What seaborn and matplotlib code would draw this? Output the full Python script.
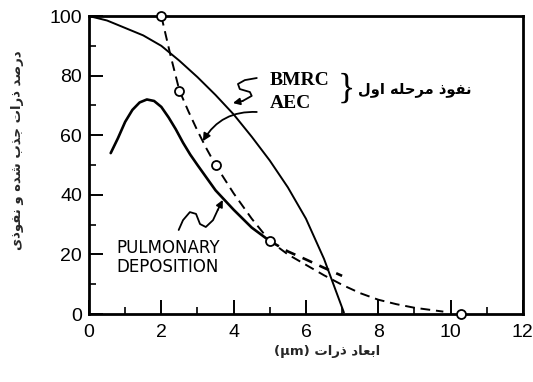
import matplotlib
matplotlib.use("Agg")
import matplotlib.pyplot as plt
import seaborn as sns

# ---------------- data ----------------
bmrc_x = [0, 0.5, 1, 1.5, 2, 2.5, 3, 3.5, 4, 4.5, 5, 5.5, 6, 6.5, 7.05]
bmrc_y = [100, 98.5, 96, 93.5, 90, 85, 79.5, 73.5, 67, 59.5, 51.5, 42.5, 32, 18.5, 0.5]

aec_x = [2.0, 2.25, 2.5, 2.75, 3.0, 3.25, 3.5, 4.0, 4.5, 5.0, 5.5, 6.0, 6.5, 7.0, 7.5, 8.0, 8.5, 9.0, 9.8]
aec_y = [100, 87, 75, 68, 61.5, 55.5, 50, 40.5, 32, 24.5, 20, 16.5, 13, 9.8, 7, 4.8, 3.3, 2.1, 0.8]

circle_x = [2.0, 2.5, 3.5, 5.0, 10.3]
circle_y = [100, 75, 50, 24.5, 0]

pulm_x = [0.6, 0.8, 1.0, 1.2, 1.4, 1.6, 1.8, 2.0, 2.2, 2.4, 2.6, 2.8, 3.0, 3.5, 4.0, 4.5, 5.0]
pulm_y = [54, 59, 64.5, 68.5, 71, 72, 71.5, 69.5, 66, 62, 57.5, 53.5, 50, 41.5, 35, 29, 24.5]

pulm_ext_x = [5.0, 5.5, 6.0, 6.5, 7.0]
pulm_ext_y = [24.5, 21, 18.3, 15.5, 12.8]

x_ticks = [0, 2, 4, 6, 8, 10, 12]
y_ticks = [0, 20, 40, 60, 80, 100]

# annotation squiggles (data units)
bmrc_sq_x = [4.64, 4.31, 4.12, 4.17, 4.45, 4.50, 4.25, 3.98]
bmrc_sq_y = [79.2, 78.5, 77.2, 75.5, 74.5, 73.2, 71.5, 70.8]
pulm_sq_x = [2.48, 2.60, 2.79, 2.96, 3.07, 3.23, 3.43, 3.56, 3.70]
pulm_sq_y = [28.2, 31.5, 34.2, 33.6, 30.2, 29.2, 31.5, 34.9, 38.3]

ylabel_fa = "درصد ذرات جذب شده و نفوذی"
xlabel_fa = "ابعاد ذرات"
stage_fa = "نفوذ مرحله اول"

# ---------------- minimal Persian shaping ----------------
AR = {
    '\u0627': ('\uFE8D', '\uFE8E', None, None),
    '\u0628': ('\uFE8F', '\uFE90', '\uFE91', '\uFE92'),
    '\u062A': ('\uFE95', '\uFE96', '\uFE97', '\uFE98'),
    '\u062C': ('\uFE9D', '\uFE9E', '\uFE9F', '\uFEA0'),
    '\u062D': ('\uFEA1', '\uFEA2', '\uFEA3', '\uFEA4'),
    '\u062F': ('\uFEA9', '\uFEAA', None, None),
    '\u0630': ('\uFEAB', '\uFEAC', None, None),
    '\u0631': ('\uFEAD', '\uFEAE', None, None),
    '\u0634': ('\uFEB5', '\uFEB6', '\uFEB7', '\uFEB8'),
    '\u0635': ('\uFEB9', '\uFEBA', '\uFEBB', '\uFEBC'),
    '\u0639': ('\uFEC9', '\uFECA', '\uFECB', '\uFECC'),
    '\u0641': ('\uFED1', '\uFED2', '\uFED3', '\uFED4'),
    '\u0644': ('\uFEDD', '\uFEDE', '\uFEDF', '\uFEE0'),
    '\u0645': ('\uFEE1', '\uFEE2', '\uFEE3', '\uFEE4'),
    '\u0646': ('\uFEE5', '\uFEE6', '\uFEE7', '\uFEE8'),
    '\u0647': ('\uFEE9', '\uFEEA', '\uFEEB', '\uFEEC'),
    '\u0648': ('\uFEED', '\uFEEE', None, None),
    '\u06CC': ('\uFEEF', '\uFEF0', '\uFEF3', '\uFEF4'),
}


def shape(s):
    out = []
    for i, c in enumerate(s):
        if c not in AR:
            out.append(c)
            continue
        f = AR[c]
        prev = s[i - 1] if i > 0 else None
        nxt = s[i + 1] if i + 1 < len(s) else None
        jp = prev in AR and AR[prev][2] is not None
        jn = f[2] is not None and nxt in AR
        if jp and jn:
            g = f[3]
        elif jp:
            g = f[1]
        elif jn:
            g = f[2]
        else:
            g = f[0]
        out.append(g)
    return ''.join(reversed(out))


# ---------------- plot ----------------
sns.set_theme(style="white")
plt.rcParams['font.family'] = ['Liberation Sans', 'DejaVu Sans']

fig = plt.figure(figsize=(5.33, 3.82), dpi=100)
ax = fig.add_axes([0.167, 0.178, 0.814, 0.780])

sns.lineplot(x=bmrc_x, y=bmrc_y, ax=ax, color='black', lw=1.4,
             estimator=None, sort=False, solid_joinstyle='round')
sns.lineplot(x=aec_x, y=aec_y, ax=ax, color='black', lw=1.4,
             estimator=None, sort=False)
ax.lines[-1].set_dashes([5, 3])
sns.lineplot(x=pulm_x, y=pulm_y, ax=ax, color='black', lw=1.9,
             estimator=None, sort=False, solid_joinstyle='round')
sns.lineplot(x=pulm_ext_x, y=pulm_ext_y, ax=ax, color='black', lw=1.9,
             estimator=None, sort=False)
ax.lines[-1].set_dashes([4, 3])
sns.scatterplot(x=circle_x, y=circle_y, ax=ax, marker='o', s=42,
                facecolor='white', edgecolor='black', linewidth=1.3,
                zorder=5, clip_on=False)

ax.set_xlim(0, 12)
ax.set_ylim(0, 100)
ax.set_xticks(x_ticks)
ax.set_yticks(y_ticks)
ax.set_xticks([1, 3, 5, 7, 9, 11], minor=True)
ax.set_yticks([10, 30, 50, 70, 90], minor=True)
ax.tick_params(which='major', direction='in', length=10, width=1.4,
               color='black', labelsize=14, labelcolor='black',
               bottom=True, left=True, top=False, right=False)
ax.tick_params(axis='x', which='major', pad=7)
ax.tick_params(axis='y', which='major', pad=5)
ax.tick_params(which='minor', direction='in', length=5, width=1.2,
               color='black', bottom=True, left=True, top=False, right=False)
for sp in ax.spines.values():
    sp.set_color('black')
    sp.set_linewidth(2.0)
ax.set_xlabel('')
ax.set_ylabel('')

# annotations
ax.text(5.0, 78.5, 'BMRC', family='Liberation Serif', weight='bold',
        fontsize=14, ha='left', va='center', color='black')
ax.text(5.0, 70.8, 'AEC', family='Liberation Serif', weight='bold',
        fontsize=14, ha='left', va='center', color='black')
ax.text(7.13, 75.5, '}', family='Liberation Serif', fontsize=26,
        ha='center', va='center', color='black')
ax.text(9.0, 75.5, shape(stage_fa), family=['DejaVu Sans'], weight='bold',
        fontsize=10.5, ha='center', va='center', color='black')
ax.text(0.77, 22, 'PULMONARY', family='DejaVu Sans', fontsize=12,
        ha='left', va='center', color='black')
ax.text(0.77, 15.8, 'DEPOSITION', family='DejaVu Sans', fontsize=12,
        ha='left', va='center', color='black')

# squiggly arrows
ax.plot(bmrc_sq_x[:-1], bmrc_sq_y[:-1], color='black', lw=1.3,
        solid_capstyle='round', solid_joinstyle='round')
ax.annotate('', xy=(bmrc_sq_x[-1], bmrc_sq_y[-1]),
            xytext=(bmrc_sq_x[-2], bmrc_sq_y[-2]),
            arrowprops=dict(arrowstyle='-|>', color='black', lw=1.3,
                            mutation_scale=10, shrinkA=0, shrinkB=0))
ax.plot(pulm_sq_x[:-1], pulm_sq_y[:-1], color='black', lw=1.3,
        solid_capstyle='round', solid_joinstyle='round')
ax.annotate('', xy=(pulm_sq_x[-1], pulm_sq_y[-1]),
            xytext=(pulm_sq_x[-2], pulm_sq_y[-2]),
            arrowprops=dict(arrowstyle='-|>', color='black', lw=1.3,
                            mutation_scale=10, shrinkA=0, shrinkB=0))
ax.annotate('', xy=(3.15, 58.0), xytext=(4.64, 67.8),
            arrowprops=dict(arrowstyle='-|>', color='black', lw=1.3,
                            mutation_scale=11, shrinkA=0, shrinkB=0,
                            connectionstyle='arc3,rad=0.3'))

# axis titles (Persian)
fig.text(18 / 533, 1 - 150 / 382, shape(ylabel_fa), family=['DejaVu Sans'],
         weight='bold', fontsize=9.5, rotation=90, ha='center', va='center')
fig.text(327 / 533, 1 - 352 / 382, '(\u03bcm) ' + shape(xlabel_fa),
         family=['DejaVu Sans'], weight='bold', fontsize=9.5,
         ha='center', va='center')

fig.savefig('out.png', dpi=100)
